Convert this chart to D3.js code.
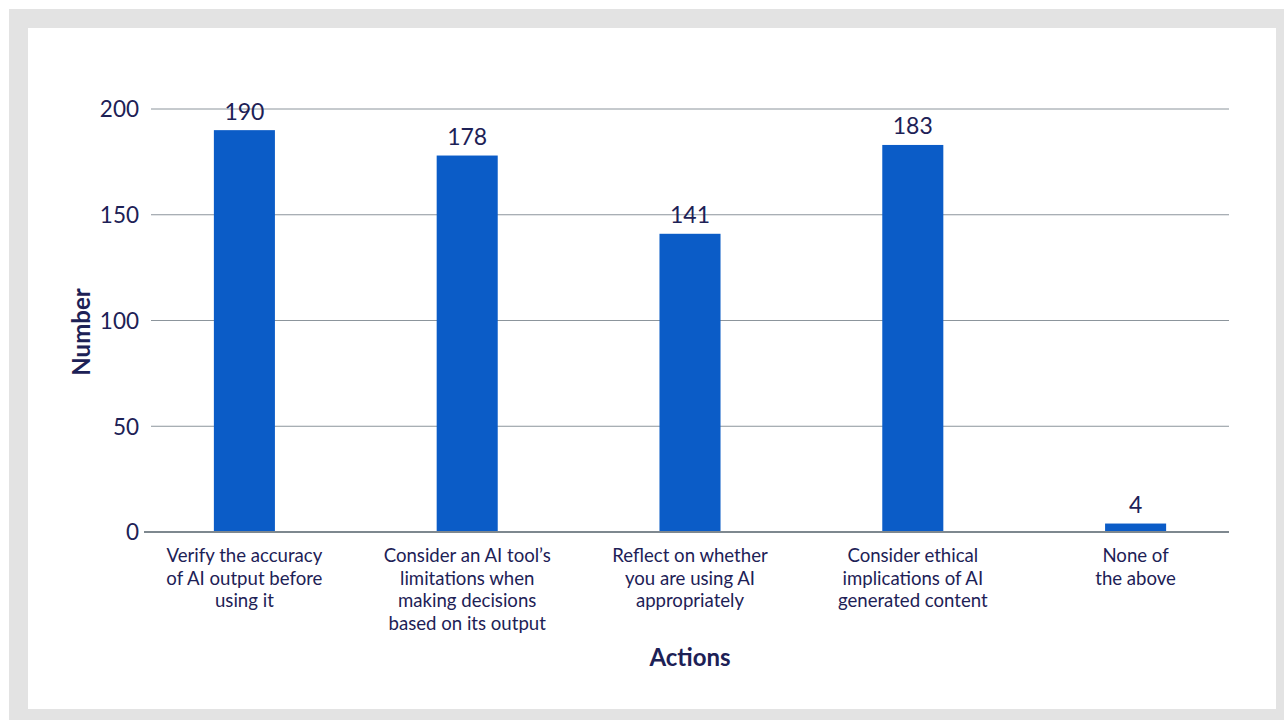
<!DOCTYPE html>
<html>
<head>
<meta charset="utf-8">
<script src="https://cdn.jsdelivr.net/npm/d3@7"></script>
<style>
  html, body { margin: 0; padding: 0; background: #ffffff; }
  svg { display: block; }
</style>
</head>
<body>
<svg id="chart" width="1284" height="720"></svg>
<script>
// Survey responses: how often people take each action when using AI
const categories = [
  "Verify the accuracy of AI output before using it",
  "Consider an AI tool’s limitations when making decisions based on its output",
  "Reflect on whether you are using AI appropriately",
  "Consider ethical implications of AI generated content",
  "None of the above"
];
// Wrapped lines for each category label
const categoryLines = [
  ["Verify the accuracy", "of AI output before", "using it"],
  ["Consider an AI tool’s", "limitations when", "making decisions", "based on its output"],
  ["Reflect on whether", "you are using AI", "appropriately"],
  ["Consider ethical", "implications of AI", "generated content"],
  ["None of", "the above"]
];
const counts = [190, 178, 141, 183, 4];
const yTicks = [0, 50, 100, 150, 200];
const xTitle = "Actions";
const yTitle = "Number";

const navy = "#1d2156";
const barColor = "#0b5cc7";
const font = "Lato, 'Open Sans', sans-serif";

const svg = d3.select("#chart");

// Frame: light grey band around a white panel
svg.append("rect").attr("x", 9).attr("y", 9).attr("width", 1275).attr("height", 711).attr("fill", "#e3e3e3");
svg.append("rect").attr("x", 28).attr("y", 28).attr("width", 1248).attr("height", 681).attr("fill", "#ffffff");

const x = d3.scaleBand()
  .domain(d3.range(categories.length))
  .range([133, 1247])
  .paddingInner(0.726)
  .paddingOuter(0.363);

const y = d3.scaleLinear().domain([0, 200]).range([532, 109]);

// Horizontal gridlines
svg.append("g")
  .selectAll("line")
  .data(yTicks.filter(t => t !== 0))
  .join("line")
  .attr("x1", 151).attr("x2", 1229)
  .attr("y1", d => y(d)).attr("y2", d => y(d))
  .attr("stroke", "#8c959c").attr("stroke-width", 1);

// Y axis tick labels
const yAxis = d3.axisLeft(y).tickValues(yTicks).tickSize(0).tickPadding(0);
const gy = svg.append("g").attr("transform", "translate(139,0)").call(yAxis);
gy.select(".domain").remove();
gy.selectAll("text")
  .attr("font-family", font).attr("font-size", 22.5)
  .attr("fill", navy).attr("dy", "0.35em");

// Bars
svg.append("g")
  .selectAll("rect")
  .data(counts)
  .join("rect")
  .attr("x", (d, i) => x(i))
  .attr("width", x.bandwidth())
  .attr("y", d => y(d))
  .attr("height", d => y(0) - y(d))
  .attr("fill", barColor);

// Baseline
svg.append("line")
  .attr("x1", 144).attr("x2", 1229)
  .attr("y1", y(0)).attr("y2", y(0))
  .attr("stroke", "#7e888f").attr("stroke-width", 2);

// Value labels above bars
svg.append("g")
  .selectAll("text")
  .data(counts)
  .join("text")
  .attr("x", (d, i) => x(i) + x.bandwidth() / 2)
  .attr("y", d => y(d) - 10.5)
  .attr("text-anchor", "middle")
  .attr("font-family", font).attr("font-size", 23)
  .attr("fill", navy)
  .text(d => d);

// Category labels
const catG = svg.append("g")
  .selectAll("text")
  .data(categoryLines)
  .join("text")
  .attr("x", (d, i) => x(i) + x.bandwidth() / 2)
  .attr("y", 562)
  .attr("text-anchor", "middle")
  .attr("font-family", font).attr("font-size", 18.6)
  .attr("fill", navy);
catG.selectAll("tspan")
  .data((d, i) => d.map(line => ({ line, i })))
  .join("tspan")
  .attr("x", d => x(d.i) + x.bandwidth() / 2)
  .attr("dy", (d, j) => j === 0 ? 0 : 22.5)
  .text(d => d.line);

// Axis titles
svg.append("text")
  .attr("x", 690).attr("y", 666)
  .attr("text-anchor", "middle")
  .attr("font-family", font).attr("font-size", 24).attr("font-weight", "bold")
  .attr("fill", navy)
  .text(xTitle);

svg.append("text")
  .attr("transform", "translate(90,332) rotate(-90)")
  .attr("text-anchor", "middle")
  .attr("font-family", font).attr("font-size", 24).attr("font-weight", "bold")
  .attr("fill", navy)
  .text(yTitle);
</script>
</body>
</html>
